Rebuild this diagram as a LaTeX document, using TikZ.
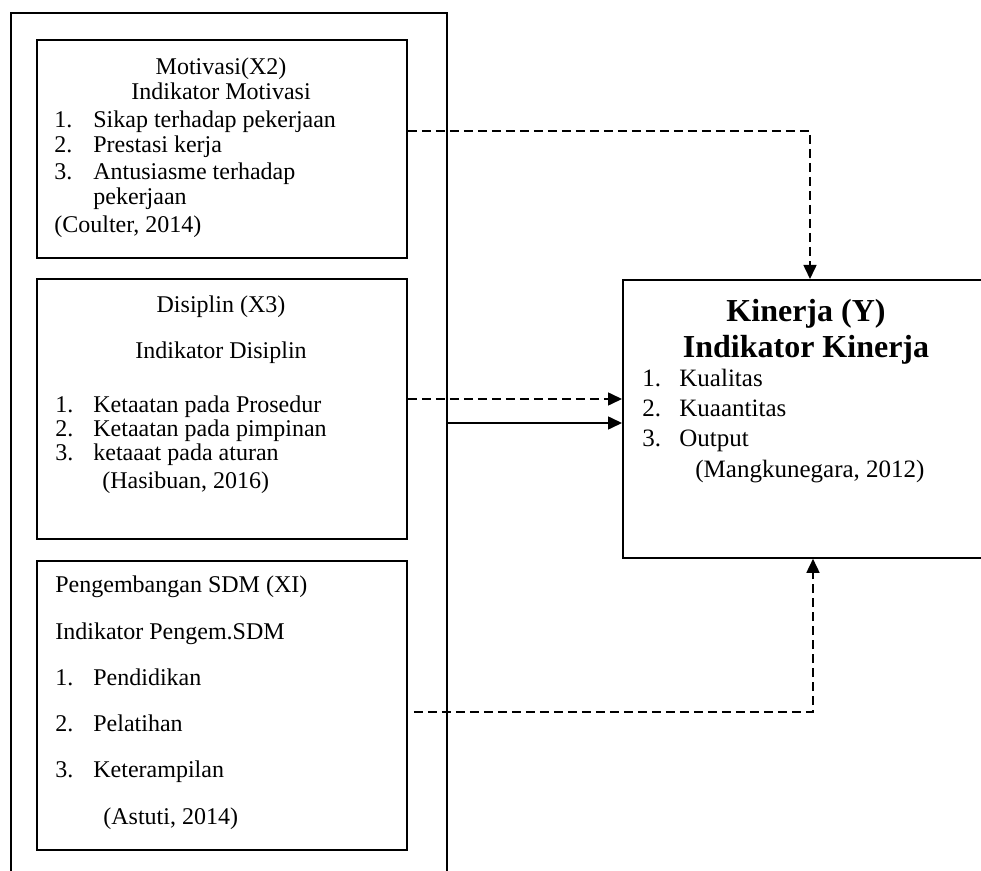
\documentclass[tikz,border=0pt]{standalone}
\usepackage{fontspec}
\setmainfont{Liberation Serif}
\usepackage{tikz}
\usetikzlibrary{positioning,arrows.meta,calc}

\begin{document}
\begin{tikzpicture}[
  x=0.5pt, y=-0.5pt,
  box/.style={draw, line width=0.9pt, anchor=north west, inner sep=0pt},
  txt/.style={anchor=base west, inner sep=0pt, font=\fontsize{12}{13}\selectfont},
  mid/.style={anchor=base, inner sep=0pt, font=\fontsize{12}{13}\selectfont},
  head/.style={anchor=base, inner sep=0pt, font=\fontsize{16}{18}\selectfont\bfseries},
  ktxt/.style={anchor=base west, inner sep=0pt, font=\fontsize{12.5}{14}\selectfont},
  arr/.style={-{Triangle[length=7pt, width=6.5pt]}, line width=0.8pt},
  dasharr/.style={arr, dash pattern=on 4.5pt off 2.5pt}
]
\clip (0,0) rectangle (981,871);

% outer frame and the three variable boxes
\node[box, minimum width=218pt, minimum height=439pt] (out) at (10,12) {};
\node[box, minimum width=185pt, minimum height=109pt] (mot) at (36,39) {};
\node[box, minimum width=185pt, minimum height=130pt] (dis) at (36,278) {};
\node[box, minimum width=185pt, minimum height=144.5pt] (sdm) at (36,560) {};
\node[box, minimum width=184pt, minimum height=139pt] (kin) at (622,279) {};

% Motivasi
\node[mid] (motA) at (221,75) {Motivasi(X2)};
\node[mid] (motB) at (221,100) {Indikator Motivasi};
\foreach \n/\t/\y in {1/Sikap terhadap pekerjaan/128, 2/Prestasi kerja/153, 3/Antusiasme terhadap/180} {
  \node[txt] (motn\n) at (54,\y) {\n.};
  \node[txt] (moti\n) at (93,\y) {\t};
}
\node[txt] (motC) at (93,205) {pekerjaan};
\node[txt] (motR) at (54,233) {(Coulter, 2014)};

% Disiplin
\node[mid] (disA) at (221,313) {Disiplin (X3)};
\node[mid] (disB) at (221,359) {Indikator Disiplin};
\foreach \n/\t/\y in {1/Ketaatan pada Prosedur/413, 2/Ketaatan pada pimpinan/437, 3/ketaaat pada aturan/461} {
  \node[txt] (disn\n) at (55,\y) {\n.};
  \node[txt] (disi\n) at (93,\y) {\t};
}
\node[txt] (disR) at (102,489) {(Hasibuan, 2016)};

% Pengembangan SDM
\node[txt] (sdmA) at (55,593) {Pengembangan SDM (XI)};
\node[txt] (sdmB) at (55,640) {Indikator Pengem.SDM};
\foreach \n/\t/\y in {1/Pendidikan/686, 2/Pelatihan/732, 3/Keterampilan/777} {
  \node[txt] (sdmn\n) at (55,\y) {\n.};
  \node[txt] (sdmi\n) at (93,\y) {\t};
}
\node[txt] (sdmR) at (103,824) {(Astuti, 2014)};

% Kinerja
\node[head] (kinA) at (806,322) {Kinerja (Y)};
\node[head] (kinB) at (806,358) {Indikator Kinerja};
\foreach \n/\t/\y in {1/Kualitas/387, 2/Kuaantitas/417, 3/Output/447} {
  \node[ktxt] (kinn\n) at (642,\y) {\n.};
  \node[ktxt] (kini\n) at (679,\y) {\t};
}
\node[ktxt] (kinR) at (695,478) {(Mangkunegara, 2012)};

% connectors
\coordinate (moOut) at ($(mot.north east)+(0,92)$);
\coordinate (diOut) at ($(dis.north east)+(0,121)$);
\coordinate (ouOut) at ($(out.north east)+(0,411)$);
\coordinate (sdOut) at ($(sdm.north east)+(6,152)$);

\draw[dasharr] (moOut) -| ($(kin.north west)+(188,0)$);
\draw[dasharr] (diOut) -- (diOut -| kin.west);
\draw[arr] (ouOut) -- (ouOut -| kin.west);
\draw[dasharr] (sdOut) -| ($(kin.south west)+(191,0)$);
\end{tikzpicture}
\end{document}
